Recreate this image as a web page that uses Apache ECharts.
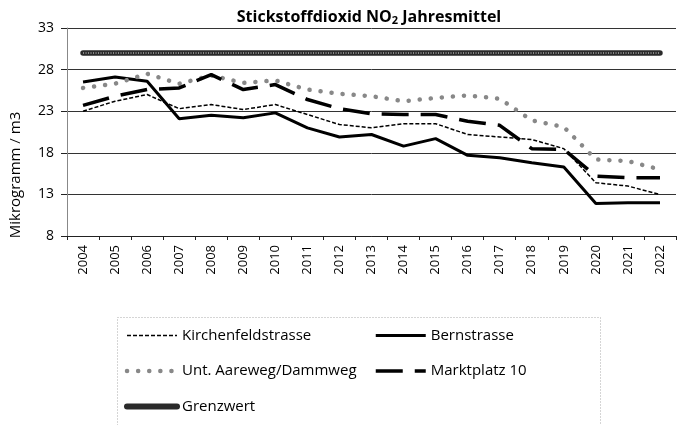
<!DOCTYPE html>
<html>
<head>
<meta charset="utf-8">
<script src="https://cdn.jsdelivr.net/npm/echarts@6/dist/echarts.min.js"></script>
<style>
  html, body { margin: 0; padding: 0; background: #fff; }
  #chart { width: 677px; height: 425px; }
</style>
</head>
<body>
<div id="chart"></div>
<script>
const years = ['2004', '2005', '2006', '2007', '2008', '2009', '2010', '2011', '2012', '2013',
  '2014', '2015', '2016', '2017', '2018', '2019', '2020', '2021', '2022']

// Jahresmittel in Mikrogramm / m3
const kirchenfeld = [23.0, 24.2, 25.0, 23.3, 23.8, 23.2, 23.8, 22.6, 21.4, 21.0, 21.5, 21.5, 20.2, 19.9, 19.6, 18.5, 14.4, 14.0, 13.0]
const bern = [26.5, 27.1, 26.6, 22.1, 22.5, 22.2, 22.8, 21.0, 19.9, 20.2, 18.8, 19.7, 17.7, 17.4, 16.8, 16.3, 11.9, 12.0, 12.0]
const aare = [25.8, 26.3, 27.5, 26.3, 27.3, 26.4, 26.7, 25.6, 25.1, 24.8, 24.2, 24.6, 24.9, 24.5, 21.9, 21.1, 17.2, 17.0, 16.0]
const markt = [23.7, 24.8, 25.6, 25.8, 27.4, 25.6, 26.2, 24.4, 23.3, 22.7, 22.6, 22.6, 21.8, 21.3, 18.5, 18.4, 15.2, 15.0, 15.0]
const grenzwert = [30, 30, 30, 30, 30, 30, 30, 30, 30, 30, 30, 30, 30, 30, 30, 30, 30, 30, 30]

const yTicks = { min: 8, max: 33, step: 5 }

const font = 'Open Sans'
const chart = echarts.init(document.getElementById('chart'))

const legendText = { fontFamily: font, fontSize: 15, color: '#000' }

const option = {
  animation: false,
  title: {
    text: 'Stickstoffdioxid NO{sub|2} Jahresmittel',
    left: 364,
    top: 3,
    textAlign: 'center',
    textStyle: {
      fontFamily: font,
      fontSize: 16,
      fontWeight: 'bold',
      color: '#000',
      rich: {
        sub: { fontFamily: font, fontSize: 11, fontWeight: 'bold', color: '#000', verticalAlign: 'bottom', padding: [7, 0, 0, 0] }
      }
    }
  },
  grid: { left: 67, right: 1, top: 28, bottom: 189, containLabel: false },
  legend: [
    {
      data: [
        { name: 'Kirchenfeldstrasse', lineStyle: { width: 1.5 } },
        { name: 'Unt. Aareweg/Dammweg', lineStyle: { width: 4.5 } },
        { name: 'Grenzwert', lineStyle: { width: 6 } }
      ],
      orient: 'vertical',
      left: 119,
      top: 323,
      itemWidth: 50,
      itemHeight: 14,
      itemGap: 20.5,
      itemStyle: { opacity: 0 },
      textStyle: legendText
    },
    {
      data: [
        { name: 'Bernstrasse', lineStyle: { width: 3 } },
        { name: 'Marktplatz 10', lineStyle: { width: 3.5 } }
      ],
      orient: 'vertical',
      left: 369,
      top: 323,
      itemWidth: 50,
      itemHeight: 14,
      itemGap: 20.5,
      itemStyle: { opacity: 0 },
      textStyle: legendText
    }
  ],
  graphic: [
    {
      type: 'rect',
      shape: { x: 117.5, y: 317.5, width: 483, height: 120 },
      style: { fill: 'none', stroke: '#aaa', lineWidth: 1, lineDash: [1, 2] },
      silent: true
    },
    {
      type: 'text',
      x: 16,
      y: 175,
      rotation: Math.PI / 2,
      style: {
        text: 'Mikrogramm / m3',
        font: '15px "Open Sans"',
        fill: '#000',
        align: 'center',
        verticalAlign: 'middle'
      }
    }
  ],
  xAxis: {
    type: 'category',
    data: years,
    boundaryGap: true,
    axisLine: { lineStyle: { color: '#222', width: 1 } },
    axisTick: { show: true, length: 4, lineStyle: { color: '#222' } },
    axisLabel: { rotate: 90, fontFamily: font, fontSize: 13, color: '#000', margin: 9 }
  },
  yAxis: {
    type: 'value',
    min: yTicks.min,
    max: yTicks.max,
    interval: yTicks.step,
    axisLine: { show: true, lineStyle: { color: '#888', width: 1 } },
    axisTick: { show: true, length: 6, lineStyle: { color: '#222' } },
    splitLine: { lineStyle: { color: '#333', width: 1 } },
    axisLabel: { fontFamily: font, fontSize: 14, color: '#000', margin: 13 }
  },
  series: [
    {
      name: 'Kirchenfeldstrasse',
      type: 'line',
      data: kirchenfeld,
      symbol: 'none',
      lineStyle: { color: '#000', width: 1.5, type: [4, 2] },
      itemStyle: { color: '#000' }
    },
    {
      name: 'Bernstrasse',
      type: 'line',
      data: bern,
      symbol: 'none',
      lineStyle: { color: '#000', width: 3 },
      itemStyle: { color: '#000' }
    },
    {
      name: 'Unt. Aareweg/Dammweg',
      type: 'line',
      data: aare,
      symbol: 'none',
      lineStyle: { color: '#888', width: 4.5, type: [0.1, 11], cap: 'round' },
      itemStyle: { color: '#888' }
    },
    {
      name: 'Marktplatz 10',
      type: 'line',
      data: markt,
      symbol: 'none',
      lineStyle: { color: '#000', width: 3.5, type: [27, 12] },
      itemStyle: { color: '#000' }
    },
    {
      name: 'Grenzwert',
      type: 'line',
      data: grenzwert,
      symbol: 'none',
      lineStyle: { color: '#2a2a2a', width: 5.5, cap: 'round' },
      itemStyle: { color: '#2a2a2a' }
    },
    {
      name: 'Grenzwert',
      type: 'line',
      data: grenzwert,
      symbol: 'none',
      silent: true,
      lineStyle: { color: '#8a8a8a', width: 2, type: [1, 1.5] },
      itemStyle: { color: '#8a8a8a' }
    }
  ]
}

chart.setOption(option)
</script>
</body>
</html>
